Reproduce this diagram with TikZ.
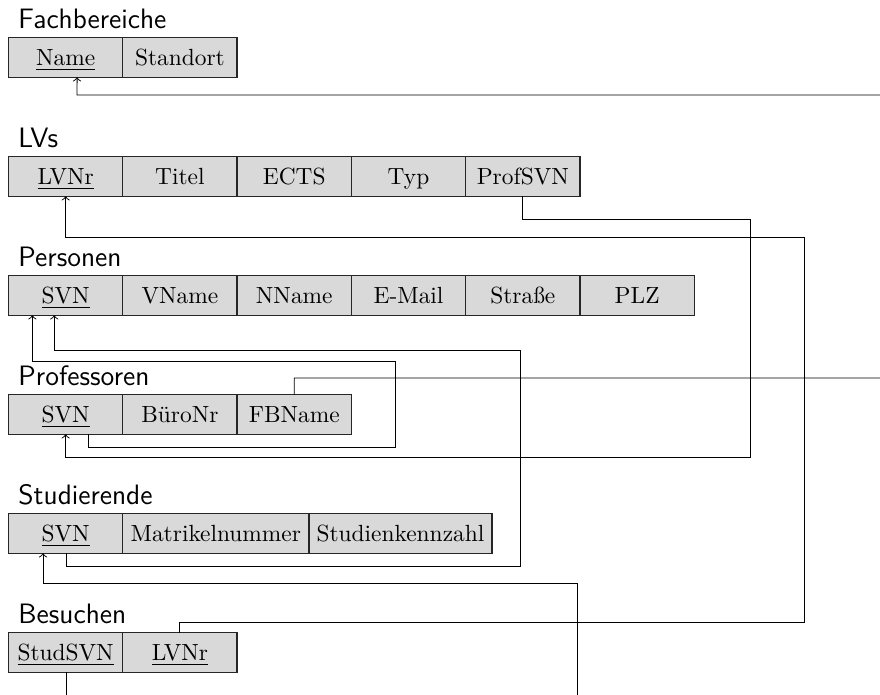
\documentclass[tikz,border=0pt]{standalone}
\usepackage{fontspec}
\usetikzlibrary{calc}
\definecolor{cellfill}{HTML}{D9D9D9}
\begin{document}
\begin{tikzpicture}[x=0.4274pt, y=-0.4274pt,
  cell/.style={draw=black!85, line width=0.6pt, fill=cellfill, minimum width=48.85pt,
    minimum height=16.9pt, inner sep=3.33pt, outer sep=0pt, anchor=north west,
    text height=8pt, text depth=0.8pt},
  ttl/.style={font=\sffamily\large, anchor=base west, inner sep=0pt},
  fk/.style={draw=black, line width=0.4pt, ->}]
\useasboundingbox (0,0) rectangle (880,695);
\clip (0,0) rectangle (880,695);

% Fachbereiche
\node[ttl] (tFB) at (18,28.7) {Fachbereiche};
\node[cell] (fName) at (8.5,37.7) {\underline{Name}};
\node[cell] (fStand) at (fName.north east) {Standort};

% LVs
\node[ttl] (tLV) at (18,147.7) {LVs};
\node[cell] (lLV) at (8.5,156.7) {\underline{LVNr}};
\node[cell] (lTitel) at (lLV.north east) {Titel};
\node[cell] (lECTS) at (lTitel.north east) {ECTS};
\node[cell] (lTyp) at (lECTS.north east) {Typ};
\node[cell] (lProf) at (lTyp.north east) {ProfSVN};

% Personen
\node[ttl] (tP) at (18,266.7) {Personen};
\node[cell] (pSVN) at (8.5,275.7) {\underline{SVN}};
\node[cell] (pV) at (pSVN.north east) {VName};
\node[cell] (pN) at (pV.north east) {NName};
\node[cell] (pE) at (pN.north east) {E-Mail};
\node[cell] (pS) at (pE.north east) {Straße};
\node[cell] (pPLZ) at (pS.north east) {PLZ};

% Professoren
\node[ttl] (tPr) at (18,385.7) {Professoren};
\node[cell] (prSVN) at (8.5,394.7) {\underline{SVN}};
\node[cell] (prB) at (prSVN.north east) {BüroNr};
\node[cell] (prFB) at (prB.north east) {FBName};

% Studierende
\node[ttl] (tS) at (18,504.7) {Studierende};
\node[cell] (sSVN) at (8.5,513.7) {\underline{SVN}};
\node[cell] (sM) at (sSVN.north east) {Matrikelnummer};
\node[cell] (sK) at (sM.north east) {Studienkennzahl};

% Besuchen
\node[ttl] (tB) at (18,623.7) {Besuchen};
\node[cell] (bStud) at (8.5,632.7) {\underline{StudSVN}};
\node[cell] (bLV) at (bStud.north east) {\underline{LVNr}};

% connectors
\draw[fk] (prFB.north) |- (905,378) |- (77,95) -- ($(fName.south)+(11.4,0)$);
\draw[fk] (lProf.south) |- (750,219) -- (750,457) -| (prSVN.south);
\draw[fk] (bLV.north) |- (804,622) -- (804,237) -| (lLV.south);
\draw[fk] ($(prSVN.south)+(22.4,0)$) |- (395,447) -- (395,361) -| ($(pSVN.south)+(-33.3,0)$);
\draw[fk] ($(sSVN.south)+(1.2,0)$) |- (520,566) -- (520,350) -| ($(pSVN.south)+(-11.4,0)$);
\draw[fk] ($(bStud.south)+(1.2,0)$) |- (577,710) -- (577,583) -| ($(sSVN.south)+(-22.6,0)$);
\end{tikzpicture}
\end{document}
